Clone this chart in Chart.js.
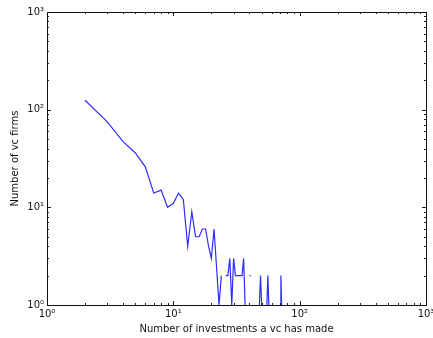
<!DOCTYPE html>
<html>
<head>
<meta charset="utf-8">
<script src="https://cdn.jsdelivr.net/npm/chart.js@4"></script>
<style>
  html, body { margin: 0; padding: 0; background: #fff; }
  #wrap { width: 433px; height: 338px; }
</style>
</head>
<body>
<div id="wrap"><canvas id="myChart" width="433" height="338"></canvas></div>
<script>
// Number of investments a vc has made (x) and how many firms made that many (y)
// null = no firm at that count, so the line breaks there
const investments = [2, 3, 4, 5, 6, 7, 8, 9, 10, 11, 12, 13, 14, 15, 16, 17, 18, 19, 20, 21,
    23, 24, 25, 26, 27, 28, 29, 30, 31, 32, 33, 34, 35, 36, 37, 38, 40, 41, 42,
    48, 49, 50, 51, 55, 56, 57, 58, 70, 71, 72];
const firms = [125, 75, 47, 36, 26, 14, 15, 10, 11, 14, 12, 4, 9, 5, 5, 6, 6, 4, 3, 6,
    1, 2, null, 2, 2, 3, 1, 3, 2, 2, 2, 2, 2, 3, 1, null, 2, 2, null,
    1, 2, 1, null, 1, 2, 1, null, 1, 2, 1];

const decadeTicks = [1, 10, 100, 1000];
const superDigits = ['\u2070', '\u00b9', '\u00b2', '\u00b3'];

const font = { family: 'DejaVu Sans', size: 10 };
const textColor = '#111';

function powerLabel(v) {
    const e = Math.round(Math.log10(v));
    return '10' + superDigits[e];
}

// box round the plot with inward major and minor ticks on every side
const frameTicks = {
    id: 'frameTicks',
    afterDatasetsDraw(chart) {
        const { ctx, chartArea: a, scales } = chart;
        const xs = scales.x, ys = scales.y;
        ctx.save();
        ctx.strokeStyle = '#222';
        ctx.lineWidth = 1;
        ctx.beginPath();
        for (const d of [1, 10, 100]) {
            for (let m = 1; m <= 10; m++) {
                const v = m * d;
                if (m === 10 && d !== 100) continue;
                const len = (m === 1 || m === 10) ? 4 : 2;
                const px = Math.round(xs.getPixelForValue(v)) + 0.5;
                ctx.moveTo(px, a.bottom); ctx.lineTo(px, a.bottom - len);
                ctx.moveTo(px, a.top); ctx.lineTo(px, a.top + len);
                const py = Math.round(ys.getPixelForValue(v)) + 0.5;
                ctx.moveTo(a.left, py); ctx.lineTo(a.left + len, py);
                ctx.moveTo(a.right, py); ctx.lineTo(a.right - len, py);
            }
        }
        ctx.stroke();
        ctx.strokeStyle = '#111';
        ctx.strokeRect(Math.round(a.left) + 0.5, Math.round(a.top) + 0.5,
            Math.round(a.right - a.left), Math.round(a.bottom - a.top));
        ctx.restore();
    }
};

const points = investments.map((x, i) => ({ x: x, y: firms[i] }));

const ctx = document.getElementById('myChart').getContext('2d');
const myChart = new Chart(ctx, {
    type: 'line',
    data: {
        datasets: [{
            data: points,
            borderColor: 'rgb(45, 45, 255)',
            borderWidth: 1.2,
            pointRadius: 0,
            tension: 0,
            spanGaps: false,
            fill: false
        }]
    },
    options: {
        responsive: false,
        animation: false,
        layout: { padding: { top: 12, right: 7, left: 0, bottom: 0 }, autoPadding: false },
        plugins: { legend: { display: false }, tooltip: { enabled: false } },
        scales: {
            x: {
                type: 'logarithmic',
                min: 1,
                max: 1000,
                grid: { display: false, drawTicks: false },
                border: { display: false },
                afterBuildTicks: s => { s.ticks = decadeTicks.map(v => ({ value: v, major: true })); },
                ticks: { callback: v => powerLabel(v), font: font, color: textColor, padding: 3, maxRotation: 0, autoSkip: false },
                title: { display: true, text: 'Number of investments a vc has made', font: font, color: textColor, padding: { top: 0, bottom: 3 } },
                afterFit: s => { s.height = 33; s.paddingLeft = 0; s.paddingRight = 0; }
            },
            y: {
                type: 'logarithmic',
                min: 1,
                max: 1000,
                grid: { display: false, drawTicks: false },
                border: { display: false },
                afterBuildTicks: s => { s.ticks = decadeTicks.map(v => ({ value: v, major: true })); },
                ticks: { callback: v => powerLabel(v), font: font, color: textColor, padding: 3, autoSkip: false },
                title: { display: true, text: 'Number of vc firms', font: font, color: textColor, padding: { top: 9, bottom: 0 } },
                afterFit: s => { s.width = 47; s.paddingTop = 0; s.paddingBottom = 0; }
            }
        }
    },
    plugins: [frameTicks]
});
</script>
</body>
</html>
